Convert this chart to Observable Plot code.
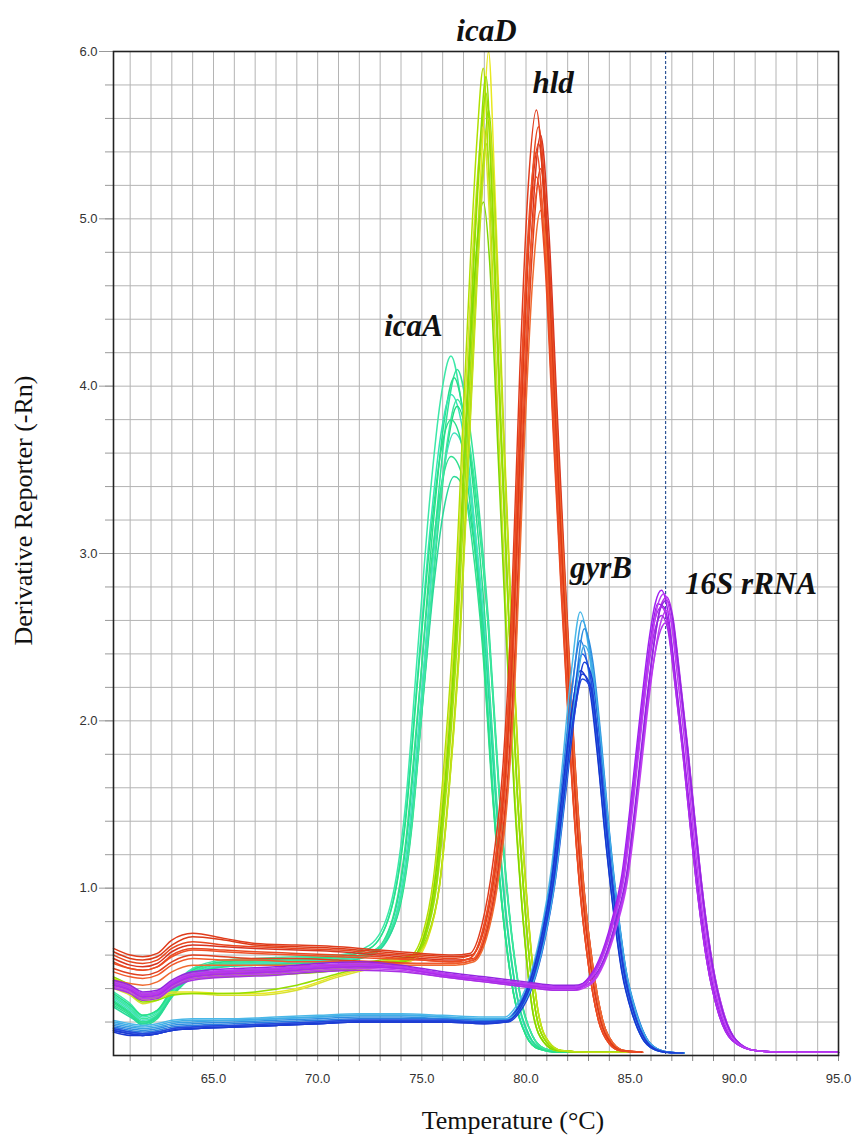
<!DOCTYPE html>
<html><head><meta charset="utf-8">
<script src="https://cdn.jsdelivr.net/npm/d3@7"></script>
<script src="https://cdn.jsdelivr.net/npm/@observablehq/plot@0.6"></script>
<style>body{margin:0;background:#fff} svg{display:block}</style>
</head><body><div id="chart"></div>
<script>
// ---------- icaA ----------
const T_icaA_a = [60.2, 61, 61.6, 62.3, 63, 64, 65.5, 67, 69, 71, 72.5, 73.5, 74.2, 74.8, 75.4, 75.9, 76.4, 76.9, 77.4, 77.9, 78.4, 78.9, 79.4, 80, 80.6, 81.5, 83];
const T_icaA_b = [60.2, 61, 61.6, 62.3, 63, 64, 65.5, 67, 69, 71, 72.7, 73.8, 74.5, 75.1, 75.7, 76.2, 76.7, 77.2, 77.7, 78.2, 78.7, 79.2, 79.7, 80.3, 80.9, 81.8, 83.3];
const T_icaA_c = [60.2, 61, 61.6, 62.3, 63, 64, 65.5, 67, 69, 71, 72.6, 73.65, 74.35, 74.95, 75.55, 76.05, 76.55, 77.05, 77.55, 78.05, 78.55, 79.05, 79.55, 80.15, 80.75, 81.65, 83.15];
const icaA = [
  [0.38, 0.31, 0.24, 0.27, 0.40, 0.52, 0.57, 0.58, 0.59, 0.60, 0.66, 0.90, 1.48, 2.42, 3.35, 3.92, 4.18, 3.90, 3.35, 2.62, 1.62, 0.86, 0.38, 0.12, 0.04, 0.02, 0.02],
  [0.33, 0.26, 0.20, 0.23, 0.36, 0.49, 0.55, 0.56, 0.57, 0.58, 0.62, 0.84, 1.40, 2.30, 3.22, 3.82, 4.10, 3.84, 3.32, 2.60, 1.62, 0.86, 0.38, 0.12, 0.04, 0.02, 0.02],
  [0.30, 0.24, 0.18, 0.22, 0.35, 0.48, 0.54, 0.55, 0.56, 0.57, 0.61, 0.83, 1.38, 2.26, 3.18, 3.77, 4.05, 3.80, 3.30, 2.58, 1.60, 0.85, 0.37, 0.12, 0.04, 0.02, 0.02],
  [0.36, 0.29, 0.23, 0.26, 0.39, 0.51, 0.56, 0.57, 0.58, 0.59, 0.64, 0.86, 1.40, 2.28, 3.15, 3.70, 3.95, 3.78, 3.28, 2.58, 1.58, 0.84, 0.37, 0.12, 0.04, 0.02, 0.02],
  [0.32, 0.25, 0.19, 0.23, 0.37, 0.50, 0.55, 0.56, 0.57, 0.58, 0.62, 0.82, 1.34, 2.20, 3.05, 3.62, 3.88, 3.68, 3.22, 2.54, 1.58, 0.84, 0.37, 0.12, 0.04, 0.02, 0.02],
  [0.34, 0.27, 0.21, 0.24, 0.37, 0.49, 0.54, 0.55, 0.56, 0.57, 0.61, 0.80, 1.30, 2.12, 2.98, 3.50, 3.72, 3.60, 3.15, 2.50, 1.55, 0.82, 0.36, 0.11, 0.04, 0.02, 0.02],
  [0.31, 0.25, 0.20, 0.24, 0.36, 0.48, 0.53, 0.54, 0.55, 0.56, 0.60, 0.78, 1.25, 2.05, 2.88, 3.38, 3.58, 3.48, 3.08, 2.46, 1.54, 0.83, 0.37, 0.12, 0.04, 0.02, 0.02],
  [0.29, 0.23, 0.19, 0.23, 0.35, 0.47, 0.53, 0.54, 0.55, 0.56, 0.60, 0.77, 1.22, 1.98, 2.78, 3.26, 3.46, 3.38, 3.02, 2.42, 1.52, 0.82, 0.37, 0.12, 0.04, 0.02, 0.02],
  [0.35, 0.28, 0.22, 0.25, 0.38, 0.50, 0.55, 0.56, 0.57, 0.58, 0.63, 0.84, 1.36, 2.22, 3.08, 3.65, 3.92, 3.72, 3.25, 2.56, 1.59, 0.85, 0.37, 0.12, 0.04, 0.02, 0.02],
  [0.37, 0.30, 0.24, 0.27, 0.39, 0.51, 0.56, 0.57, 0.58, 0.59, 0.64, 0.86, 1.38, 2.24, 3.08, 3.60, 3.80, 3.66, 3.20, 2.52, 1.56, 0.83, 0.37, 0.12, 0.04, 0.02, 0.02]
];
const icaA_grid = ["a", "b", "c", "a", "b", "c", "a", "c", "b", "a"];
const icaA_colors = ["#3ce8a8", "#2fe39a", "#27df8c", "#35e6b4", "#20dc80", "#45e0c0", "#30e090", "#2ad99a", "#3ee6a0", "#28e088"];

// ---------- icaD ----------
const T_icaD_a = [60.2, 61, 61.6, 62.3, 63, 64, 65.5, 67, 69, 71, 73, 74.4, 75.05, 75.55, 76.05, 76.55, 76.95, 77.35, 77.65, 77.95, 78.25, 78.65, 79.05, 79.45, 79.85, 80.35, 80.85, 81.45, 83, 85];
const T_icaD_b = [60.2, 61, 61.6, 62.3, 63, 64, 65.5, 67, 69, 71, 73, 74.6, 75.3, 75.85, 76.35, 76.85, 77.25, 77.65, 77.95, 78.2, 78.5, 78.9, 79.3, 79.7, 80.1, 80.6, 81.1, 81.7, 83, 85];
const T_icaD_c = [60.2, 61, 61.6, 62.3, 63, 64, 65.5, 67, 69, 71, 73, 74.5, 75.18, 75.7, 76.2, 76.7, 77.1, 77.5, 77.8, 78.08, 78.38, 78.78, 79.18, 79.58, 79.98, 80.48, 80.98, 81.58, 83, 85];
const icaD = [
  [0.42, 0.38, 0.33, 0.34, 0.38, 0.38, 0.37, 0.37, 0.40, 0.48, 0.54, 0.57, 0.70, 1.02, 1.70, 2.60, 3.75, 4.85, 5.55, 6.00, 5.20, 3.85, 2.62, 1.60, 0.85, 0.25, 0.08, 0.03, 0.02, 0.02],
  [0.46, 0.41, 0.36, 0.37, 0.43, 0.48, 0.49, 0.50, 0.51, 0.53, 0.56, 0.59, 0.73, 1.05, 1.72, 2.62, 3.72, 4.80, 5.48, 5.90, 5.15, 3.82, 2.60, 1.58, 0.84, 0.25, 0.08, 0.03, 0.02, 0.02],
  [0.44, 0.39, 0.34, 0.35, 0.41, 0.46, 0.47, 0.48, 0.49, 0.51, 0.54, 0.58, 0.72, 1.04, 1.70, 2.60, 3.70, 4.75, 5.38, 5.75, 5.10, 3.80, 2.60, 1.58, 0.84, 0.25, 0.08, 0.03, 0.02, 0.02],
  [0.47, 0.42, 0.37, 0.38, 0.44, 0.49, 0.50, 0.51, 0.52, 0.54, 0.57, 0.60, 0.72, 1.02, 1.66, 2.55, 3.62, 4.68, 5.30, 5.65, 5.05, 3.78, 2.58, 1.57, 0.84, 0.25, 0.08, 0.03, 0.02, 0.02],
  [0.40, 0.36, 0.31, 0.33, 0.37, 0.37, 0.36, 0.36, 0.39, 0.47, 0.53, 0.56, 0.70, 1.00, 1.64, 2.50, 3.55, 4.60, 5.22, 5.55, 5.00, 3.75, 2.57, 1.56, 0.83, 0.25, 0.08, 0.03, 0.02, 0.02],
  [0.45, 0.40, 0.35, 0.36, 0.42, 0.47, 0.48, 0.49, 0.50, 0.52, 0.55, 0.58, 0.71, 1.00, 1.62, 2.48, 3.50, 4.52, 5.12, 5.45, 4.95, 3.72, 2.55, 1.55, 0.83, 0.25, 0.08, 0.03, 0.02, 0.02],
  [0.43, 0.39, 0.34, 0.35, 0.41, 0.46, 0.47, 0.48, 0.49, 0.51, 0.54, 0.57, 0.69, 0.97, 1.55, 2.38, 3.35, 4.30, 4.85, 5.10, 4.75, 3.62, 2.50, 1.52, 0.82, 0.24, 0.08, 0.03, 0.02, 0.02],
  [0.41, 0.37, 0.32, 0.33, 0.36, 0.37, 0.37, 0.38, 0.42, 0.49, 0.55, 0.58, 0.72, 1.05, 1.72, 2.62, 3.74, 4.80, 5.46, 5.85, 5.15, 3.82, 2.60, 1.58, 0.84, 0.25, 0.08, 0.03, 0.02, 0.02],
  [0.46, 0.41, 0.36, 0.37, 0.43, 0.48, 0.49, 0.50, 0.51, 0.53, 0.56, 0.59, 0.71, 1.01, 1.65, 2.52, 3.58, 4.62, 5.26, 5.60, 5.02, 3.76, 2.57, 1.56, 0.83, 0.25, 0.08, 0.03, 0.02, 0.02]
];
const icaD_grid = ["b", "a", "c", "b", "a", "c", "a", "c", "b"];
const icaD_colors = ["#e8e820", "#b0e000", "#9ae000", "#88dc00", "#d8e030", "#a4e010", "#7fd800", "#94de00", "#c4e018"];

// ---------- hld ----------
const T_hld_a = [60.2, 61, 61.6, 62.3, 63, 64, 65.5, 67, 69, 71, 73, 75, 76.5, 77.3, 77.9, 78.4, 78.9, 79.3, 79.7, 80.1, 80.5, 80.9, 81.3, 81.7, 82.1, 82.6, 83, 83.5, 84, 84.5, 85.5];
const T_hld_b = [60.2, 61, 61.6, 62.3, 63, 64, 65.5, 67, 69, 71, 73, 75, 76.6, 77.5, 78.1, 78.6, 79.1, 79.5, 79.9, 80.3, 80.7, 81.1, 81.5, 81.9, 82.3, 82.8, 83.2, 83.7, 84.2, 84.7, 85.6];
const T_hld_c = [60.2, 61, 61.6, 62.3, 63, 64, 65.5, 67, 69, 71, 73, 75, 76.55, 77.4, 78.0, 78.5, 79.0, 79.4, 79.8, 80.2, 80.6, 81.0, 81.4, 81.8, 82.2, 82.7, 83.1, 83.6, 84.1, 84.6, 85.55];
const hld = [
  [0.64, 0.60, 0.59, 0.61, 0.69, 0.73, 0.70, 0.67, 0.66, 0.65, 0.63, 0.61, 0.60, 0.61, 0.79, 1.14, 1.74, 2.66, 4.08, 5.18, 5.65, 5.02, 3.90, 2.84, 1.88, 0.98, 0.54, 0.20, 0.07, 0.03, 0.02],
  [0.60, 0.56, 0.55, 0.57, 0.64, 0.68, 0.66, 0.65, 0.64, 0.63, 0.61, 0.59, 0.58, 0.60, 0.77, 1.10, 1.68, 2.58, 3.96, 5.05, 5.55, 4.98, 3.88, 2.84, 1.90, 1.00, 0.55, 0.20, 0.07, 0.03, 0.02],
  [0.58, 0.54, 0.53, 0.55, 0.62, 0.66, 0.65, 0.64, 0.63, 0.62, 0.60, 0.58, 0.57, 0.58, 0.74, 1.06, 1.62, 2.50, 3.90, 4.98, 5.50, 4.92, 3.84, 2.80, 1.86, 0.98, 0.54, 0.20, 0.07, 0.03, 0.02],
  [0.55, 0.52, 0.51, 0.53, 0.59, 0.63, 0.62, 0.61, 0.60, 0.59, 0.58, 0.57, 0.56, 0.58, 0.74, 1.06, 1.62, 2.50, 3.85, 4.92, 5.40, 4.85, 3.80, 2.78, 1.86, 0.98, 0.54, 0.20, 0.07, 0.03, 0.02],
  [0.52, 0.49, 0.48, 0.50, 0.56, 0.60, 0.59, 0.58, 0.58, 0.57, 0.56, 0.55, 0.55, 0.57, 0.72, 1.02, 1.56, 2.40, 3.75, 4.80, 5.30, 4.78, 3.75, 2.75, 1.84, 0.97, 0.54, 0.20, 0.07, 0.03, 0.02],
  [0.50, 0.47, 0.46, 0.48, 0.54, 0.58, 0.57, 0.57, 0.56, 0.56, 0.55, 0.55, 0.55, 0.57, 0.72, 1.03, 1.58, 2.42, 3.72, 4.75, 5.20, 4.72, 3.72, 2.74, 1.84, 0.97, 0.54, 0.20, 0.07, 0.03, 0.02],
  [0.45, 0.43, 0.42, 0.44, 0.50, 0.54, 0.54, 0.54, 0.54, 0.54, 0.54, 0.54, 0.54, 0.56, 0.70, 0.99, 1.52, 2.32, 3.60, 4.60, 5.05, 4.62, 3.66, 2.70, 1.82, 0.96, 0.54, 0.20, 0.07, 0.03, 0.02],
  [0.62, 0.58, 0.57, 0.59, 0.66, 0.71, 0.69, 0.66, 0.65, 0.64, 0.62, 0.60, 0.59, 0.60, 0.76, 1.09, 1.66, 2.55, 3.90, 4.98, 5.45, 4.90, 3.84, 2.80, 1.87, 0.98, 0.54, 0.20, 0.07, 0.03, 0.02],
  [0.56, 0.52, 0.51, 0.53, 0.60, 0.64, 0.63, 0.62, 0.61, 0.60, 0.59, 0.57, 0.56, 0.58, 0.73, 1.04, 1.59, 2.45, 3.78, 4.82, 5.25, 4.76, 3.74, 2.74, 1.84, 0.97, 0.54, 0.20, 0.07, 0.03, 0.02]
];
const hld_grid = ["a", "c", "b", "a", "b", "c", "b", "c", "a"];
const hld_colors = ["#e03c1c", "#e8461e", "#d83420", "#f05028", "#e04020", "#f25a2a", "#f06a30", "#dc3a18", "#ea4a22"];

// ---------- gyrB ----------
const T_gyrB_a = [60.2, 61, 61.6, 62.3, 63, 64, 66, 68, 70, 72, 74, 76, 78, 79, 79.5, 80.1, 80.7, 81.2, 81.7, 82.2, 82.6, 83.0, 83.4, 83.8, 84.2, 84.6, 85.1, 85.6, 86.1, 86.7, 87.5];
const T_gyrB_b = [60.2, 61, 61.6, 62.3, 63, 64, 66, 68, 70, 72, 74, 76, 78, 79.1, 79.7, 80.3, 80.9, 81.4, 81.9, 82.4, 82.8, 83.2, 83.6, 84.0, 84.4, 84.8, 85.3, 85.8, 86.3, 86.9, 87.6];
const T_gyrB_c = [60.2, 61, 61.6, 62.3, 63, 64, 66, 68, 70, 72, 74, 76, 78, 79.05, 79.6, 80.2, 80.8, 81.3, 81.8, 82.3, 82.7, 83.1, 83.5, 83.9, 84.3, 84.7, 85.2, 85.7, 86.2, 86.8, 87.55];
const gyrB = [
  [0.21, 0.19, 0.18, 0.19, 0.21, 0.22, 0.22, 0.23, 0.24, 0.25, 0.25, 0.24, 0.23, 0.23, 0.29, 0.44, 0.73, 1.10, 1.68, 2.32, 2.65, 2.44, 1.96, 1.38, 0.90, 0.52, 0.26, 0.10, 0.04, 0.02, 0.015],
  [0.19, 0.17, 0.16, 0.17, 0.19, 0.20, 0.21, 0.22, 0.23, 0.24, 0.24, 0.23, 0.22, 0.22, 0.28, 0.43, 0.72, 1.08, 1.65, 2.28, 2.60, 2.40, 1.93, 1.36, 0.89, 0.52, 0.26, 0.10, 0.04, 0.02, 0.015],
  [0.18, 0.16, 0.15, 0.16, 0.18, 0.19, 0.20, 0.21, 0.22, 0.23, 0.23, 0.22, 0.21, 0.22, 0.28, 0.43, 0.71, 1.07, 1.63, 2.24, 2.55, 2.36, 1.90, 1.34, 0.88, 0.51, 0.26, 0.10, 0.04, 0.02, 0.015],
  [0.17, 0.15, 0.14, 0.15, 0.17, 0.18, 0.19, 0.20, 0.21, 0.22, 0.22, 0.22, 0.21, 0.21, 0.27, 0.42, 0.70, 1.05, 1.60, 2.19, 2.48, 2.30, 1.86, 1.32, 0.87, 0.51, 0.25, 0.10, 0.04, 0.02, 0.015],
  [0.16, 0.14, 0.13, 0.14, 0.16, 0.17, 0.18, 0.19, 0.20, 0.21, 0.21, 0.21, 0.20, 0.21, 0.27, 0.42, 0.70, 1.05, 1.58, 2.14, 2.40, 2.26, 1.85, 1.32, 0.87, 0.51, 0.25, 0.10, 0.04, 0.02, 0.015],
  [0.15, 0.13, 0.12, 0.13, 0.15, 0.16, 0.17, 0.18, 0.19, 0.20, 0.20, 0.20, 0.20, 0.20, 0.26, 0.41, 0.69, 1.04, 1.56, 2.10, 2.35, 2.24, 1.84, 1.31, 0.86, 0.50, 0.25, 0.10, 0.04, 0.02, 0.015],
  [0.14, 0.12, 0.12, 0.13, 0.15, 0.16, 0.17, 0.18, 0.19, 0.20, 0.20, 0.20, 0.19, 0.20, 0.26, 0.41, 0.68, 1.02, 1.53, 2.06, 2.30, 2.22, 1.83, 1.31, 0.86, 0.50, 0.25, 0.10, 0.04, 0.02, 0.015],
  [0.16, 0.14, 0.13, 0.14, 0.16, 0.17, 0.18, 0.19, 0.20, 0.21, 0.21, 0.21, 0.20, 0.21, 0.26, 0.41, 0.68, 1.01, 1.50, 2.02, 2.25, 2.20, 1.82, 1.30, 0.86, 0.50, 0.25, 0.10, 0.04, 0.02, 0.015],
  [0.20, 0.18, 0.17, 0.18, 0.20, 0.21, 0.21, 0.22, 0.23, 0.24, 0.24, 0.23, 0.22, 0.22, 0.28, 0.42, 0.70, 1.05, 1.60, 2.18, 2.45, 2.30, 1.87, 1.33, 0.87, 0.51, 0.25, 0.10, 0.04, 0.02, 0.015],
  [0.15, 0.13, 0.12, 0.13, 0.15, 0.16, 0.17, 0.18, 0.19, 0.20, 0.20, 0.20, 0.19, 0.20, 0.26, 0.41, 0.68, 1.02, 1.52, 2.04, 2.28, 2.21, 1.82, 1.30, 0.86, 0.50, 0.25, 0.10, 0.04, 0.02, 0.015]
];
const gyrB_grid = ["a", "c", "b", "a", "c", "b", "a", "c", "b", "c"];
const gyrB_colors = ["#4ab8e8", "#3aa2e4", "#2e8ee0", "#2a7ce0", "#2050e0", "#1a40d8", "#1836d0", "#2248dc", "#40aee6", "#1c3cd4"];

// ---------- 16S rRNA ----------
const T_16S_a = [60.2, 61, 61.6, 62.3, 63, 64, 66, 68, 70, 72, 74, 76, 78, 80, 81.5, 82.3, 82.9, 83.5, 84.1, 84.6, 85.1, 85.5, 85.9, 86.2, 86.5, 86.8, 87.1, 87.5, 87.9, 88.3, 88.7, 89.2, 89.9, 91, 92.5, 95];
const T_16S_b = [60.2, 61, 61.6, 62.3, 63, 64, 66, 68, 70, 72, 74, 76, 78, 80, 81.5, 82.3, 83.15, 83.75, 84.35, 84.85, 85.35, 85.75, 86.15, 86.45, 86.75, 87.05, 87.35, 87.75, 88.15, 88.55, 88.95, 89.45, 90.1, 91, 92.5, 95];
const T_16S_c = [60.2, 61, 61.6, 62.3, 63, 64, 66, 68, 70, 72, 74, 76, 78, 80, 81.5, 82.3, 83.02, 83.62, 84.22, 84.72, 85.22, 85.62, 86.02, 86.32, 86.62, 86.92, 87.22, 87.62, 88.02, 88.42, 88.82, 89.32, 90.02, 91, 92.5, 95];
const rRNA16S = [
  [0.43, 0.40, 0.36, 0.37, 0.43, 0.48, 0.50, 0.51, 0.53, 0.54, 0.53, 0.49, 0.46, 0.43, 0.41, 0.41, 0.45, 0.57, 0.80, 1.08, 1.60, 2.06, 2.48, 2.70, 2.78, 2.66, 2.34, 1.88, 1.37, 0.91, 0.55, 0.27, 0.09, 0.03, 0.02, 0.02],
  [0.42, 0.39, 0.35, 0.36, 0.42, 0.47, 0.49, 0.50, 0.52, 0.53, 0.52, 0.48, 0.45, 0.42, 0.40, 0.40, 0.44, 0.56, 0.79, 1.06, 1.58, 2.04, 2.46, 2.68, 2.74, 2.62, 2.31, 1.86, 1.36, 0.90, 0.55, 0.27, 0.09, 0.03, 0.02, 0.02],
  [0.44, 0.41, 0.37, 0.38, 0.44, 0.49, 0.51, 0.52, 0.54, 0.55, 0.53, 0.49, 0.46, 0.43, 0.41, 0.41, 0.46, 0.59, 0.84, 1.12, 1.66, 2.12, 2.52, 2.70, 2.68, 2.52, 2.20, 1.76, 1.28, 0.85, 0.51, 0.25, 0.08, 0.03, 0.02, 0.02],
  [0.41, 0.38, 0.34, 0.35, 0.41, 0.46, 0.48, 0.49, 0.51, 0.52, 0.51, 0.47, 0.44, 0.41, 0.39, 0.39, 0.43, 0.55, 0.77, 1.03, 1.52, 1.97, 2.37, 2.58, 2.66, 2.57, 2.28, 1.84, 1.35, 0.90, 0.55, 0.27, 0.09, 0.03, 0.02, 0.02],
  [0.40, 0.37, 0.33, 0.34, 0.40, 0.45, 0.47, 0.48, 0.50, 0.51, 0.50, 0.47, 0.44, 0.41, 0.39, 0.39, 0.43, 0.54, 0.76, 1.01, 1.50, 1.94, 2.34, 2.55, 2.63, 2.55, 2.27, 1.84, 1.35, 0.90, 0.55, 0.27, 0.09, 0.03, 0.02, 0.02],
  [0.43, 0.40, 0.36, 0.37, 0.43, 0.48, 0.50, 0.51, 0.53, 0.54, 0.52, 0.48, 0.45, 0.42, 0.40, 0.40, 0.43, 0.53, 0.74, 0.98, 1.45, 1.88, 2.27, 2.48, 2.58, 2.60, 2.38, 1.95, 1.45, 0.98, 0.60, 0.30, 0.10, 0.03, 0.02, 0.02],
  [0.45, 0.42, 0.38, 0.39, 0.45, 0.50, 0.52, 0.53, 0.55, 0.56, 0.54, 0.50, 0.47, 0.44, 0.42, 0.42, 0.46, 0.58, 0.82, 1.10, 1.62, 2.08, 2.47, 2.67, 2.72, 2.60, 2.29, 1.84, 1.34, 0.89, 0.54, 0.26, 0.09, 0.03, 0.02, 0.02],
  [0.42, 0.39, 0.35, 0.36, 0.42, 0.47, 0.49, 0.50, 0.52, 0.53, 0.52, 0.48, 0.45, 0.42, 0.40, 0.40, 0.44, 0.56, 0.78, 1.04, 1.54, 1.99, 2.40, 2.61, 2.68, 2.58, 2.28, 1.84, 1.35, 0.90, 0.55, 0.27, 0.09, 0.03, 0.02, 0.02],
  [0.44, 0.41, 0.37, 0.38, 0.44, 0.49, 0.51, 0.52, 0.54, 0.55, 0.53, 0.49, 0.46, 0.43, 0.41, 0.41, 0.45, 0.57, 0.80, 1.07, 1.59, 2.05, 2.47, 2.69, 2.76, 2.64, 2.32, 1.87, 1.36, 0.90, 0.55, 0.27, 0.09, 0.03, 0.02, 0.02]
];
const rRNA16S_grid = ["a", "b", "c", "b", "a", "c", "b", "a", "c"];
const rRNA16S_colors = ["#a020f0", "#b22ae8", "#9a1ee6", "#c040f0", "#a830e4", "#b838f0", "#9226e0", "#ac2cec", "#bc3cf2"];

// ---------- annotations & ticks ----------
const geneLabels = ["icaD", "hld", "icaA", "gyrB", "16S rRNA"];
const geneLabelT = [78.1, 81.3, 74.6, 83.6, 90.8];
const geneLabelV = [6.12, 5.81, 4.36, 2.91, 2.82];
const markerT = [86.7];
const xMajorTicks = [65, 70, 75, 80, 85, 90, 95];
const yMajorTicks = [1, 2, 3, 4, 5, 6];
const xMinorTicks = d3.range(61, 96);
const yMinorTicks = d3.range(1, 30).map(i => i / 5);

const genes = [
  {name: "icaA", T: {a: T_icaA_a, b: T_icaA_b, c: T_icaA_c}, reps: icaA, grid: icaA_grid, colors: icaA_colors},
  {name: "icaD", T: {a: T_icaD_a, b: T_icaD_b, c: T_icaD_c}, reps: icaD, grid: icaD_grid, colors: icaD_colors},
  {name: "hld", T: {a: T_hld_a, b: T_hld_b, c: T_hld_c}, reps: hld, grid: hld_grid, colors: hld_colors},
  {name: "gyrB", T: {a: T_gyrB_a, b: T_gyrB_b, c: T_gyrB_c}, reps: gyrB, grid: gyrB_grid, colors: gyrB_colors},
  {name: "16S", T: {a: T_16S_a, b: T_16S_b, c: T_16S_c}, reps: rRNA16S, grid: rRNA16S_grid, colors: rRNA16S_colors}
];
const rows = [];
genes.forEach(g => g.reps.forEach((vals, r) => {
  const T = g.T[g.grid[r]];
  const n = Math.min(vals.length, T.length);
  for (let i = 0; i < n; i++) rows.push({id: g.name + "_" + r, T: T[i], v: vals[i], color: g.colors[r]});
}));

const tickFont = "Liberation Sans, Arial, sans-serif";
const serif = "Liberation Serif, Times New Roman, serif";

const chart = Plot.plot({
  width: 854, height: 1142,
  marginLeft: 113, marginRight: 16, marginTop: 51, marginBottom: 87,
  x: {domain: [60.2, 95]},
  y: {domain: [0, 6]},
  style: {background: "#fff"},
  marks: [
    Plot.gridX(xMinorTicks, {stroke: "#b4b4b4", strokeOpacity: 1, strokeWidth: 1}),
    Plot.gridY(yMinorTicks, {stroke: "#b4b4b4", strokeOpacity: 1, strokeWidth: 1}),
    Plot.axisX(xMinorTicks, {tickSize: 6, stroke: "#888", fill: "none", label: null}),
    Plot.axisX(xMajorTicks, {tickSize: 0, tickPadding: 18, tickFormat: d => d.toFixed(1), fontSize: 13, fontFamily: tickFont, fill: "#333", label: null}),
    Plot.axisY(yMinorTicks, {tickSize: 8, stroke: "#999", fill: "none", label: null}),
    Plot.axisY(yMajorTicks, {tickSize: 14, stroke: "#999", tickPadding: 2, tickFormat: d => d.toFixed(1), fontSize: 13, fontFamily: tickFont, fill: "#333", label: null}),
    Plot.ruleX(markerT, {stroke: "#2f5597", strokeDasharray: "3,2", strokeWidth: 1.2}),
    Plot.line(rows, {x: "T", y: "v", z: "id", stroke: "color", strokeWidth: 1.5, curve: "monotone-x"}),
    Plot.frame({stroke: "#222", strokeWidth: 1.6}),
    Plot.text(geneLabels, {x: (d, i) => geneLabelT[i], y: (d, i) => geneLabelV[i], text: d => d,
      fontFamily: serif, fontWeight: "bold", fontStyle: "italic", fontSize: 31, fill: "#111"}),
    Plot.text(["Derivative Reporter (-Rn)"], {frameAnchor: "left", dx: -90, dy: -43, rotate: -90, textAnchor: "middle",
      fontFamily: serif, fontSize: 26, fill: "#111"}),
    Plot.text(["Temperature (°C)"], {frameAnchor: "bottom", dx: 37, dy: 73, textAnchor: "middle",
      fontFamily: serif, fontSize: 26, fill: "#111"})
  ]
});
document.getElementById("chart").appendChild(chart);
</script>
</body></html>
